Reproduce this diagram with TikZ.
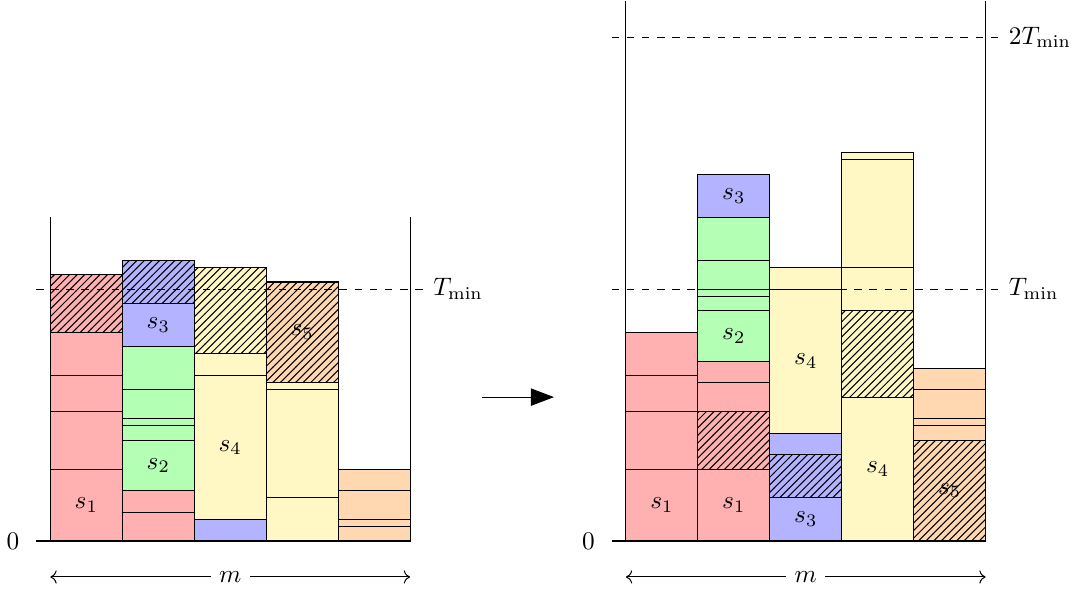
\documentclass[tikz,border=0pt]{standalone}
\usetikzlibrary{patterns,arrows.meta}

\definecolor{jobred}{RGB}{255,176,176}
\definecolor{jobgreen}{RGB}{179,255,179}
\definecolor{jobblue}{RGB}{179,179,255}
\definecolor{jobyellow}{RGB}{255,248,196}
\definecolor{joborange}{RGB}{255,216,178}

\tikzset{
  piece/.style={draw, fill=#1},
  hatch/.style={pattern=north east lines},
  level/.style={dashed},
}

\begin{document}
\begin{tikzpicture}
      \useasboundingbox (-0.7,-0.745) rectangle (14.27,7.52);

      % Machines of the first schedule
      \coordinate (lbot) at (0,0);
      \coordinate (rbot) at (5,0);
      \draw (lbot) -- (0,4.5);
      \draw (rbot) -- (5,4.5);
      \draw (-0.2,0) -- (rbot);
      \node (zeroL) at (-0.52,0) {$0$};

      % Pieces: column/bottom/top/colour
      \foreach \x/\a/\b/\c in {0/0/1/jobred, 0/1/1.8/jobred, 0/1.8/2.3/jobred,
      0/2.3/2.9/jobred, 0/2.9/3.7/jobred,
      1/0/0.4/jobred, 1/0.4/0.7/jobred, 1/0.7/1.4/jobgreen, 1/1.4/1.6/jobgreen,
      1/1.6/1.7/jobgreen, 1/1.7/2.1/jobgreen, 1/2.1/2.7/jobgreen,
      1/2.7/3.3/jobblue, 1/3.3/3.9/jobblue,
      2/0/0.3/jobblue, 2/0.3/2.3/jobyellow, 2/2.3/2.6/jobyellow, 2/2.6/3.8/jobyellow,
      3/0/0.6/jobyellow, 3/0.6/2.1/jobyellow, 3/2.1/2.2/jobyellow, 3/2.2/3.6/joborange,
      4/0/0.2/joborange, 4/0.2/0.3/joborange, 4/0.3/0.7/joborange, 4/0.7/1/joborange}
      \draw[piece=\c] (\x,\a) rectangle (\x+1,\b);

      \node (s1L) at (0.5,0.5) {$s_1$};
      \node (s2L) at (1.5,1.05) {$s_2$};
      \node (s3L) at (1.5,3) {$s_3$};
      \node (s4L) at (2.5,1.3) {$s_4$};
      \node (s5L) at (3.5,2.9) {$s_5$};

      % Hatched pieces
      \foreach \x/\a/\b in {0/2.9/3.7, 1/3.3/3.9, 2/2.6/3.8, 3/2.2/3.6}
      \fill[hatch] (\x,\a) rectangle (\x+1,\b);

      \draw[level] (-0.2,3.5) -- (5.2,3.5) node[right] (tminL) {$T_{\min}$};

      % Width of the schedule
      \coordinate (ml) at (0,-0.5);
      \coordinate (mr) at (5,-0.5);
      \draw[<->] (ml) -- (mr) node[midway, fill=white] (mL) {$m$};

      % Step between the two schedules
      \coordinate (from) at (6,2);
      \coordinate (to) at (7,2);
      \draw[-{Triangle[length=3.2mm,width=2.4mm]}] (from) -- (to);

      % Machines of the second schedule
      \coordinate (lbot2) at (8,0);
      \coordinate (rbot2) at (13,0);
      \draw (lbot2) -- (8,7.5);
      \draw (rbot2) -- (13,7.5);
      \draw (7.8,0) -- (rbot2);
      \node (zeroR) at (7.48,0) {$0$};

      \foreach \x/\a/\b/\c in {8/0/1/jobred, 8/1/1.8/jobred, 8/1.8/2.3/jobred, 8/2.3/2.9/jobred,
      9/0/1/jobred, 9/1/1.8/jobred, 9/1.8/2.2/jobred, 9/2.2/2.5/jobred,
      9/2.5/3.2/jobgreen, 9/3.2/3.4/jobgreen, 9/3.4/3.5/jobgreen, 9/3.5/3.9/jobgreen,
      9/3.9/4.5/jobgreen, 9/4.5/5.1/jobblue,
      10/0/0.6/jobblue, 10/0.6/1.2/jobblue, 10/1.2/1.5/jobblue, 10/1.5/3.5/jobyellow,
      10/3.5/3.8/jobyellow,
      11/0/2/jobyellow, 11/2/3.2/jobyellow, 11/3.2/3.8/jobyellow, 11/3.8/5.3/jobyellow,
      11/5.3/5.4/jobyellow,
      12/0/1.4/joborange, 12/1.4/1.6/joborange, 12/1.6/1.7/joborange, 12/1.7/2.1/joborange,
      12/2.1/2.4/joborange}
      \draw[piece=\c] (\x,\a) rectangle (\x+1,\b);

      \node (s1R) at (8.5,0.5) {$s_1$};
      \node (s1Rb) at (9.5,0.5) {$s_1$};
      \node (s2R) at (9.5,2.85) {$s_2$};
      \node (s3R) at (9.5,4.8) {$s_3$};
      \node (s3Rb) at (10.5,0.3) {$s_3$};
      \node (s4R) at (10.5,2.5) {$s_4$};
      \node (s4Rb) at (11.5,1) {$s_4$};
      \node (s5R) at (12.5,0.7) {$s_5$};

      \foreach \x/\a/\b in {9/1/1.8, 10/0.6/1.2, 11/2/3.2, 12/0/1.4}
      \fill[hatch] (\x,\a) rectangle (\x+1,\b);

      \draw[level] (7.8,3.5) -- (13.2,3.5) node[right] (tminR) {$T_{\min}$};
      \draw[level] (7.8,7) -- (13.2,7) node[right] (ttminR) {$2T_{\min}$};

      \coordinate (ml2) at (8,-0.5);
      \coordinate (mr2) at (13,-0.5);
      \draw[<->] (ml2) -- (mr2) node[midway, fill=white] (mR) {$m$};
    \end{tikzpicture}
\end{document}
